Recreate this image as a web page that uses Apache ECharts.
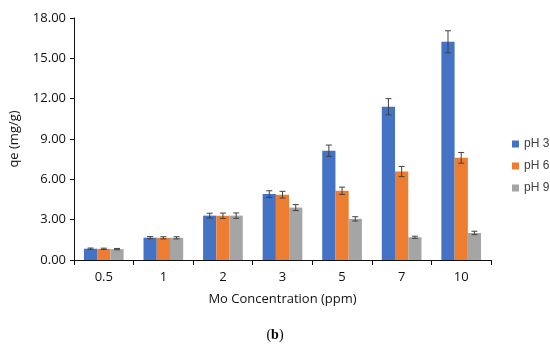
<!DOCTYPE html>
<html>
<head>
<meta charset="utf-8">
<script src="https://cdn.jsdelivr.net/npm/echarts@6/dist/echarts.min.js"></script>
<style>html,body{margin:0;padding:0;background:#fff;}#c{width:550px;height:349px;}</style>
</head>
<body>
<div id="c"></div>
<script>
var categories = ['0.5', '1', '2', '3', '5', '7', '10'];
var seriesNames = ['pH 3', 'pH 6', 'pH 9'];
var ph3 = [0.84, 1.66, 3.30, 4.90, 8.13, 11.40, 16.23];
var ph6 = [0.83, 1.65, 3.29, 4.86, 5.15, 6.58, 7.60];
var ph9 = [0.81, 1.65, 3.30, 3.90, 3.06, 1.69, 2.01];
var ph3Err = [0.05, 0.08, 0.18, 0.25, 0.42, 0.60, 0.82];
var ph6Err = [0.05, 0.08, 0.20, 0.25, 0.27, 0.38, 0.40];
var ph9Err = [0.05, 0.08, 0.20, 0.22, 0.16, 0.08, 0.13];
var colors = ['#4472C4', '#ED7D31', '#A5A5A5'];

var values = [ph3, ph6, ph9];
var errs = [ph3Err, ph6Err, ph9Err];
var BAR_FRAC = 0.222;

var chart = echarts.init(document.getElementById('c'));
var fontFam = '"Open Sans", "Liberation Sans", sans-serif';

function errSeries(si) {
  var data = categories.map(function (c, i) { return [i, values[si][i], errs[si][i]]; });
  return {
    type: 'custom',
    name: seriesNames[si] + ' err',
    data: data,
    z: 10,
    silent: true,
    renderItem: function (params, api) {
      var idx = api.value(0), v = api.value(1), e = api.value(2);
      var band = api.size([1, 0])[0];
      var bw = band * BAR_FRAC;
      var center = api.coord([idx, v]);
      var x = center[0] + (si - 1) * bw;
      var top = api.coord([idx, v + e])[1];
      var bot = api.coord([idx, v - e])[1];
      var cap = 3;
      var st = { stroke: '#404040', lineWidth: 1 };
      return {
        type: 'group',
        children: [
          { type: 'line', shape: { x1: x, y1: top, x2: x, y2: bot }, style: st },
          { type: 'line', shape: { x1: x - cap, y1: top, x2: x + cap, y2: top }, style: st },
          { type: 'line', shape: { x1: x - cap, y1: bot, x2: x + cap, y2: bot }, style: st }
        ]
      };
    }
  };
}

var series = [];
for (var s = 0; s < 3; s++) {
  series.push({
    type: 'bar',
    name: seriesNames[s],
    data: values[s],
    barWidth: (BAR_FRAC * 100) + '%',
    barGap: '0%',
    itemStyle: { color: colors[s] }
  });
}
for (var s2 = 0; s2 < 3; s2++) series.push(errSeries(s2));

chart.setOption({
  animation: false,
  backgroundColor: '#fff',
  textStyle: { fontFamily: fontFam },
  grid: { left: 73, right: 59, top: 18, bottom: 89 },
  legend: {
    data: seriesNames,
    orient: 'vertical',
    left: 507,
    top: 133,
    itemWidth: 7,
    itemHeight: 7,
    itemGap: 10,
    icon: 'rect',
    textStyle: { fontSize: 12, color: '#404040', fontFamily: '"Liberation Sans", sans-serif' }
  },
  graphic: [{
    type: 'text',
    left: 'center',
    top: 328,
    style: {
      text: '({b|b})',
      fill: '#000',
      font: '14px "Liberation Serif", serif',
      rich: { b: { fontWeight: 'bold', fontFamily: '"Liberation Serif", serif', fontSize: 14, fill: '#000' } }
    },
    x: -8
  }],
  xAxis: {
    type: 'category',
    data: categories,
    name: 'Mo Concentration (ppm)',
    nameLocation: 'middle',
    nameGap: 33,
    nameTextStyle: { fontSize: 13, color: '#111', fontFamily: fontFam },
    axisLine: { lineStyle: { color: '#111', width: 1 } },
    axisTick: { show: true, length: 5, lineStyle: { color: '#111' } },
    axisLabel: { fontSize: 13, color: '#111', margin: 11, fontFamily: fontFam }
  },
  yAxis: {
    type: 'value',
    min: 0,
    max: 18,
    interval: 3,
    name: 'qe (mg/g)',
    nameLocation: 'middle',
    nameGap: 53,
    nameTextStyle: { fontSize: 13, color: '#111', fontFamily: fontFam },
    axisLine: { show: true, lineStyle: { color: '#111', width: 1 } },
    axisTick: { show: true, length: 4, lineStyle: { color: '#111' } },
    splitLine: { show: false },
    axisLabel: { fontSize: 13, color: '#111', margin: 8, fontFamily: fontFam, formatter: function (v) { return v.toFixed(2); } }
  },
  series: series
});
</script>
</body>
</html>
